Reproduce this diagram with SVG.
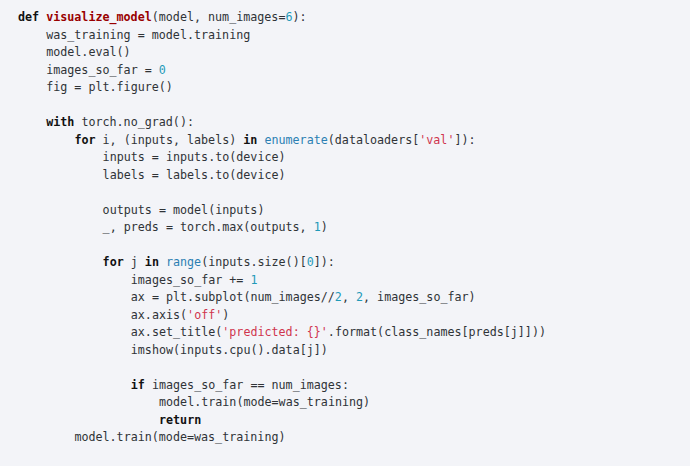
<svg xmlns="http://www.w3.org/2000/svg" width="690" height="472" viewBox="0 0 690 472">
<style>
text{font-family:"DejaVu Sans Mono","Liberation Mono",monospace;font-size:11.7px;fill:#2f3337;white-space:pre}
.k{font-weight:bold;fill:#111}
.t{font-weight:bold;fill:#990000}
.n{fill:#1f9ab8}
.b{fill:#2b7fb3}
.s{fill:#d0344e}
</style>
<rect x="0" y="0" width="690" height="472" fill="#ffffff"/>
<rect x="0" y="0" width="690" height="466" fill="#f3f4f8"/>
<g id="code">
<text x="18" y="21" xml:space="preserve"><tspan class="k">def</tspan> <tspan class="t">visualize_model</tspan>(model, num_images=<tspan class="n">6</tspan>):</text>
<text x="46.2" y="38.5" xml:space="preserve">was_training = model.training</text>
<text x="46.2" y="56" xml:space="preserve">model.eval()</text>
<text x="46.2" y="73.5" xml:space="preserve">images_so_far = <tspan class="n">0</tspan></text>
<text x="46.2" y="91" xml:space="preserve">fig = plt.figure()</text>
<text x="46.2" y="126" xml:space="preserve"><tspan class="k">with</tspan> torch.no_grad():</text>
<text x="74.4" y="143.5" xml:space="preserve"><tspan class="k">for</tspan> i, (inputs, labels) <tspan class="k">in</tspan> <tspan class="b">enumerate</tspan>(dataloaders[<tspan class="s">'val'</tspan>]):</text>
<text x="102.6" y="161" xml:space="preserve">inputs = inputs.to(device)</text>
<text x="102.6" y="178.5" xml:space="preserve">labels = labels.to(device)</text>
<text x="102.6" y="213.5" xml:space="preserve">outputs = model(inputs)</text>
<text x="102.6" y="231" xml:space="preserve">_, preds = torch.max(outputs, <tspan class="n">1</tspan>)</text>
<text x="102.6" y="266" xml:space="preserve"><tspan class="k">for</tspan> j <tspan class="k">in</tspan> <tspan class="b">range</tspan>(inputs.size()[<tspan class="n">0</tspan>]):</text>
<text x="130.8" y="283.5" xml:space="preserve">images_so_far += <tspan class="n">1</tspan></text>
<text x="130.8" y="301" xml:space="preserve">ax = plt.subplot(num_images//<tspan class="n">2</tspan>, <tspan class="n">2</tspan>, images_so_far)</text>
<text x="130.8" y="318.5" xml:space="preserve">ax.axis(<tspan class="s">'off'</tspan>)</text>
<text x="130.8" y="336" xml:space="preserve">ax.set_title(<tspan class="s">'predicted: {}'</tspan>.format(class_names[preds[j]]))</text>
<text x="130.8" y="353.5" xml:space="preserve">imshow(inputs.cpu().data[j])</text>
<text x="130.8" y="388.5" xml:space="preserve"><tspan class="k">if</tspan> images_so_far == num_images:</text>
<text x="159" y="406" xml:space="preserve">model.train(mode=was_training)</text>
<text x="159" y="423.5" xml:space="preserve"><tspan class="k">return</tspan></text>
<text x="74.4" y="441" xml:space="preserve">model.train(mode=was_training)</text>
</g>
</svg>
